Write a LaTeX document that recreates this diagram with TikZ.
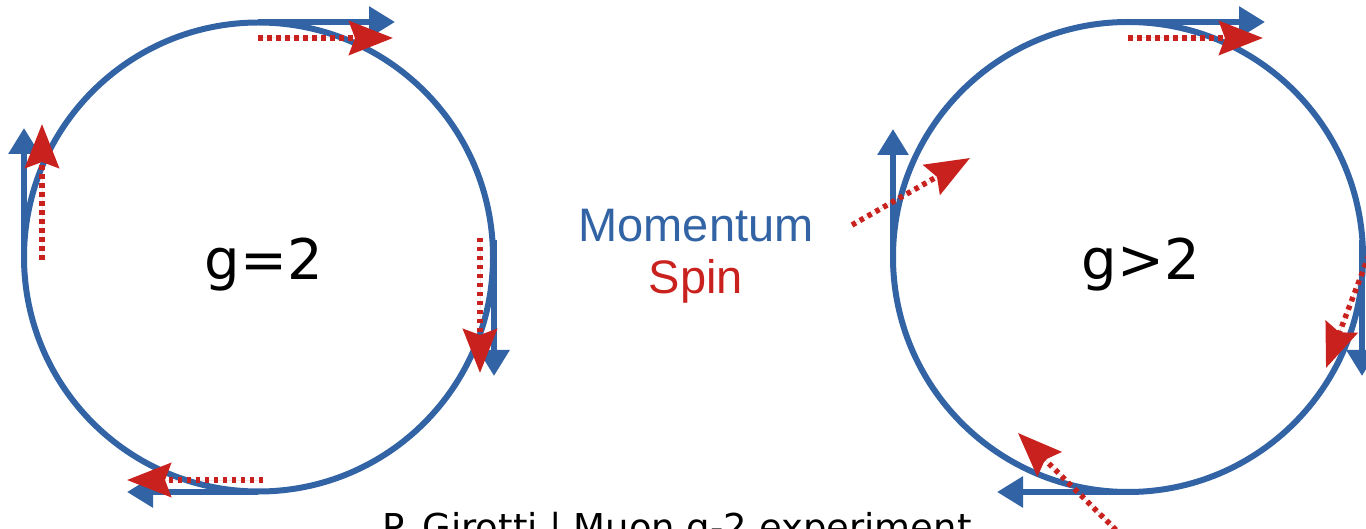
\documentclass[tikz,border=0pt]{standalone}
\usepackage{fontspec}
\setmainfont{DejaVu Sans}
\newfontfamily\legendfont{Liberation Sans}
\usetikzlibrary{arrows.meta}
\definecolor{mblue}{RGB}{50,99,164}
\definecolor{sred}{RGB}{201,33,30}
\begin{document}
\begin{tikzpicture}[x=1pt,y=-1pt,
  ring/.style={draw=mblue, line width=6pt},
  mom/.style={draw=mblue, fill=mblue, line width=6pt, -{Triangle[length=26pt,width=30pt]}},
  spin/.style={draw=sred, fill=sred, line width=5.5pt, dash pattern=on 4.5pt off 4.5pt, -{Stealth[length=44pt,width=34pt,inset=6pt]}},
  lbl/.style={inner sep=0pt, anchor=base}]
\useasboundingbox (0,0) rectangle (1366,529);
% left ring g=2
\coordinate (L) at (258.5,257);
\draw[ring] (L) circle[radius=234.5pt];
\coordinate (Lt0) at (258,22);  \coordinate (Lt1) at (395,22);
\coordinate (Ls0) at (258,38);  \coordinate (Ls1) at (393,38);
\draw[mom] (Lt0) -- (Lt1);
\draw[spin] (Ls0) -- (Ls1);
\coordinate (Ll0) at (24,257);  \coordinate (Ll1) at (24,128);
\coordinate (Lsl0) at (42,260); \coordinate (Lsl1) at (42,124);
\draw[mom] (Ll0) -- (Ll1);
\draw[spin] (Lsl0) -- (Lsl1);
\coordinate (Lr0) at (494,240); \coordinate (Lr1) at (494,376);
\coordinate (Lsr0) at (480,238); \coordinate (Lsr1) at (480,373);
\draw[mom] (Lr0) -- (Lr1);
\draw[spin] (Lsr0) -- (Lsr1);
\coordinate (Lb0) at (258,492); \coordinate (Lb1) at (127,492);
\coordinate (Lsb0) at (263,480); \coordinate (Lsb1) at (127,480);
\draw[mom] (Lb0) -- (Lb1);
\draw[spin] (Lsb0) -- (Lsb1);
\node[lbl, font=\fontsize{56}{60}\selectfont] (g2) at (264,280) {g=2};
% right ring g>2
\coordinate (R) at (1128,257);
\draw[ring] (R) circle[radius=235pt];
\coordinate (Rt0) at (1128,22);  \coordinate (Rt1) at (1265,22);
\coordinate (Rs0) at (1128,38);  \coordinate (Rs1) at (1263,38);
\draw[mom] (Rt0) -- (Rt1);
\draw[spin] (Rs0) -- (Rs1);
\coordinate (Rl0) at (893,257);  \coordinate (Rl1) at (893,129);
\coordinate (Rsl0) at (852,225); \coordinate (Rsl1) at (970,158);
\draw[mom] (Rl0) -- (Rl1);
\draw[spin] (Rsl0) -- (Rsl1);
\coordinate (Rr0) at (1362,240); \coordinate (Rr1) at (1362,376);
\coordinate (Rsr0) at (1369,255); \coordinate (Rsr1) at (1326,368);
\draw[mom] (Rr0) -- (Rr1);
\draw[spin] (Rsr0) -- (Rsr1);
\coordinate (Rb0) at (1128,492); \coordinate (Rb1) at (997,492);
\coordinate (Rsb0) at (1116,530); \coordinate (Rsb1) at (1018,433);
\draw[mom] (Rb0) -- (Rb1);
\draw[spin] (Rsb0) -- (Rsb1);
\node[lbl, font=\fontsize{56}{60}\selectfont] (gg2) at (1141,280) {g>2};
% legend
\node[lbl, text=mblue, font=\legendfont\fontsize{47}{52}\selectfont] (mo) at (696,242) {Momentum};
\node[lbl, text=sred, font=\legendfont\fontsize{47}{52}\selectfont] (sp) at (696,294) {Spin};
\node[lbl, font=\fontsize{37}{44}\selectfont] (foot) at (677,540) {P. Girotti | Muon g-2 experiment};
\end{tikzpicture}
\end{document}
